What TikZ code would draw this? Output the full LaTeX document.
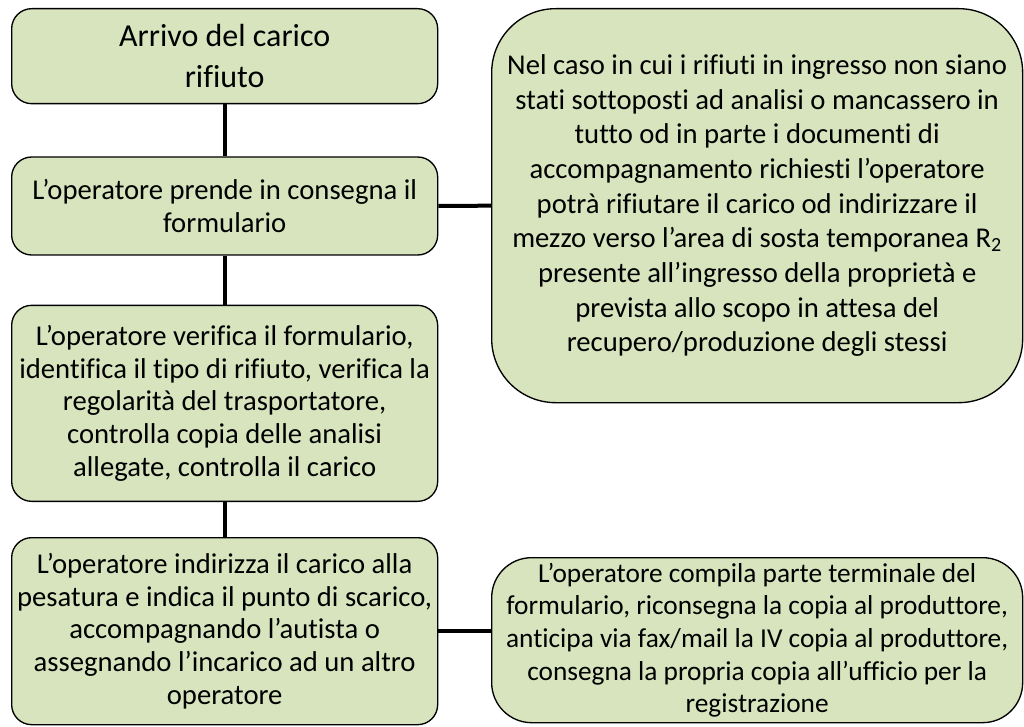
\documentclass[tikz,border=0pt]{standalone}
\usepackage{fontspec}
\setmainfont{Carlito}[Ligatures = NoCommon]
\usepackage{xcolor}
\usepackage{tikz}
\usetikzlibrary{calc}
\usetikzlibrary{positioning}

\definecolor{verdino}{RGB}{215,228,189}

\begin{document}
\begin{tikzpicture}
[
	x = 0.75pt, y = -0.75pt,
	passo/.style = {rectangle, rounded corners = 15pt, draw = black, line width = 1pt, fill = verdino, align = center, inner sep = 0pt, minimum width = 319.5pt, font = \fontsize{21.5}{24.5}\selectfont},
	nota/.style = {passo, rounded corners = 48pt, minimum width = 398.25pt},
	link/.style = {line width = 3pt, black},
	node distance = 39pt,
]
	\useasboundingbox (0,0) rectangle (1024,727);

	% colonna dei passi
	\node (arrivo) [passo, anchor = north west, minimum height = 71.25pt, font = \fontsize{24}{31}\selectfont] at (11,8) {Arrivo del carico\\rifiuto};
	\node (consegna) [passo, below = of arrivo, minimum height = 73.5pt] {L’operatore prende in consegna il\\formulario};
	\node (verifica) [passo, below = 36.75pt of consegna, minimum height = 147pt] {L’operatore verifica il formulario,\\identifica il tipo di rifiuto, verifica la\\regolarità del trasportatore,\\controlla copia delle analisi\\allegate, controlla il carico};
	\node (pesatura) [passo, below = 26.25pt of verifica, minimum height = 140.25pt] {L’operatore indirizza il carico alla\\pesatura e indica il punto di scarico,\\accompagnando l’autista o\\assegnando l’incarico ad un altro\\operatore};

	% note a destra
	\node (sosta) [nota, anchor = north west, minimum height = 295.5pt, font = \fontsize{21.5}{26}\selectfont] at (491,8) {Nel caso in cui i rifiuti in ingresso non siano\\stati sottoposti ad analisi o mancassero in\\tutto od in parte i documenti di\\accompagnamento richiesti l’operatore\\potrà rifiutare il carico od indirizzare il\\mezzo verso l’area di sosta temporanea R\textsubscript{2}\\presente all’ingresso della proprietà e\\prevista allo scopo in attesa del\\recupero/produzione degli stessi};
	\node (registro) [nota, anchor = north west, rounded corners = 30pt, minimum height = 123.75pt, font = \fontsize{20.5}{24.5}\selectfont] at (491,557) {L’operatore compila parte terminale del\\formulario, riconsegna la copia al produttore,\\anticipa via fax/mail la IV copia al produttore,\\consegna la propria copia all’ufficio per la\\registrazione};

	% collegamenti
	\draw [link] (arrivo) -- (consegna);
	\draw [link] (consegna) -- (verifica);
	\draw [link] (verifica) -- (pesatura);
	\draw [link] (consegna.east) -- (sosta.west);
	\draw [link] (pesatura.east) -- (pesatura.east -| registro.west);

\end{tikzpicture}
\end{document}
